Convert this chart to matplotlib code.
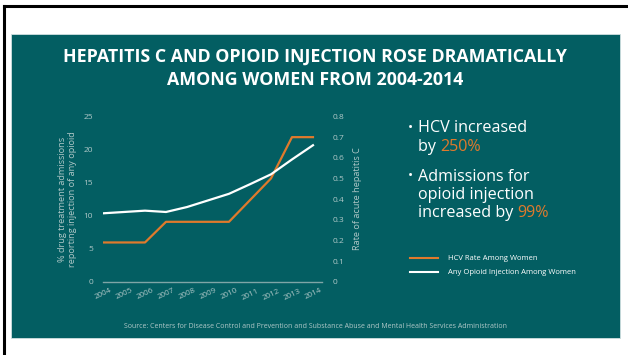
"""Hepatitis C and opioid injection among women, 2004-2014."""

import matplotlib

matplotlib.use("Agg")
import matplotlib.pyplot as plt
from matplotlib.lines import Line2D
from matplotlib.patches import Rectangle

TEAL = "#035e62"
ORANGE = "#e07a2c"
TICK = "#b0c8c8"
SPINE = "#7fa5a6"

years = [2004, 2005, 2006, 2007, 2008, 2009, 2010, 2011, 2012, 2013, 2014]
# acute hepatitis C rate (right axis)
hcv_rate = [0.19, 0.19, 0.19, 0.29, 0.29, 0.29, 0.29, 0.395, 0.5, 0.7, 0.7]
# % of admissions reporting opioid injection (left axis)
opioid_pct = [10.35, 10.55, 10.75, 10.55, 11.3, 12.3, 13.3, 14.75, 16.25, 18.5, 20.65]

left_ticks = [0, 5, 10, 15, 20, 25]
right_ticks = [0, 0.1, 0.2, 0.3, 0.4, 0.5, 0.6, 0.7, 0.8]

plt.rcParams["font.family"] = ["Open Sans", "DejaVu Sans"]

W, H = 628, 355
fig = plt.figure(figsize=(W / 100, H / 100), dpi=100)
fig.patch.set_facecolor("white")


def fx(px):
    return px / W


def fy(py):
    return 1 - py / H


# panel background and the outer frame
fig.patches.append(Rectangle((fx(11), fy(338)), fx(609), (338 - 34) / H,
                             transform=fig.transFigure, facecolor=TEAL,
                             edgecolor="#cfe0e0", lw=0.6, zorder=-5))
fig.lines.append(Line2D([fx(4), fx(628)], [fy(6), fy(6)], transform=fig.transFigure,
                        color="black", lw=2.2))
fig.lines.append(Line2D([fx(4), fx(4)], [fy(6), fy(355)], transform=fig.transFigure,
                        color="black", lw=2.2))

fig.text(fx(315), fy(57), "HEPATITIS C AND OPIOID INJECTION ROSE DRAMATICALLY",
         ha="center", va="center", color="white", fontsize=12.8, fontweight="bold")
fig.text(fx(315), fy(80), "AMONG WOMEN FROM 2004-2014",
         ha="center", va="center", color="white", fontsize=12.8, fontweight="bold")

ax = fig.add_axes([fx(103), fy(281.7), fx(219), (281.7 - 116.5) / H])
ax.set_facecolor("none")
ax2 = ax.twinx()

ax2.plot(years, hcv_rate, color=ORANGE, lw=1.6, zorder=2)
ax.set_zorder(ax2.get_zorder() + 1)
ax.plot(years, opioid_pct, color="white", lw=1.6, zorder=3)

ax.set_xlim(2004, 2014.43)
ax.set_ylim(0, 25)
ax2.set_ylim(0, 0.8)
ax.set_yticks(left_ticks)
ax2.set_yticks(right_ticks)
ax2.set_yticklabels(["0" if t == 0 else f"{t:g}" for t in right_ticks])
ax.set_xticks(years)
ax.set_xticklabels([str(y) for y in years], rotation=25, ha="center")

for a in (ax, ax2):
    for side in ("top", "left", "right", "bottom"):
        a.spines[side].set_visible(False)
    a.tick_params(length=0, colors=TICK, labelsize=6)
ax.spines["bottom"].set_visible(True)
ax.spines["bottom"].set_color(SPINE)
ax.spines["bottom"].set_linewidth(1.0)
ax.tick_params(axis="y", pad=7)
ax.tick_params(axis="x", pad=4, labelsize=5.8)
ax2.tick_params(axis="y", pad=8)

ax.set_ylabel("% drug treatment admissions\nreporting injection of any opioid",
              color=TICK, fontsize=6.6, linespacing=1.1, labelpad=5)
ax2.set_ylabel("Rate of acute hepatitis C", color=TICK, fontsize=6.6, labelpad=6)

# bullet callouts
bullets = [
    (128, "•", "HCV increased", None),
    (147, None, "by ", "250%"),
    (177, "•", "Admissions for", None),
    (195, None, "opioid injection", None),
    (213, None, "increased by ", "99%"),
]
for y, mark, text, accent in bullets:
    if mark:
        fig.text(fx(408), fy(y), mark, color="white", fontsize=10, va="center")
    t = fig.text(fx(418), fy(y), text, color="white", fontsize=11.6, va="center")
    if accent:
        fig.canvas.draw()
        bb = t.get_window_extent()
        fig.text(bb.x1 / W, fy(y), accent, color=ORANGE, fontsize=11.6, va="center")

# legend
fig.lines.append(Line2D([fx(410), fx(438)], [fy(258), fy(258)], transform=fig.transFigure,
                        color=ORANGE, lw=1.5))
fig.lines.append(Line2D([fx(410), fx(438)], [fy(272), fy(272)], transform=fig.transFigure,
                        color="white", lw=1.5))
fig.text(fx(448), fy(258), "HCV Rate Among Women", color="white", fontsize=5.5, va="center")
fig.text(fx(448), fy(272), "Any Opioid Injection Among Women", color="white",
         fontsize=5.5, va="center")

fig.text(fx(316), fy(326.5),
         "Source: Centers for Disease Control and Prevention and Substance Abuse and "
         "Mental Health Services Administration",
         ha="center", va="center", color=TICK, fontsize=5)

fig.savefig("out.png", dpi=100)
